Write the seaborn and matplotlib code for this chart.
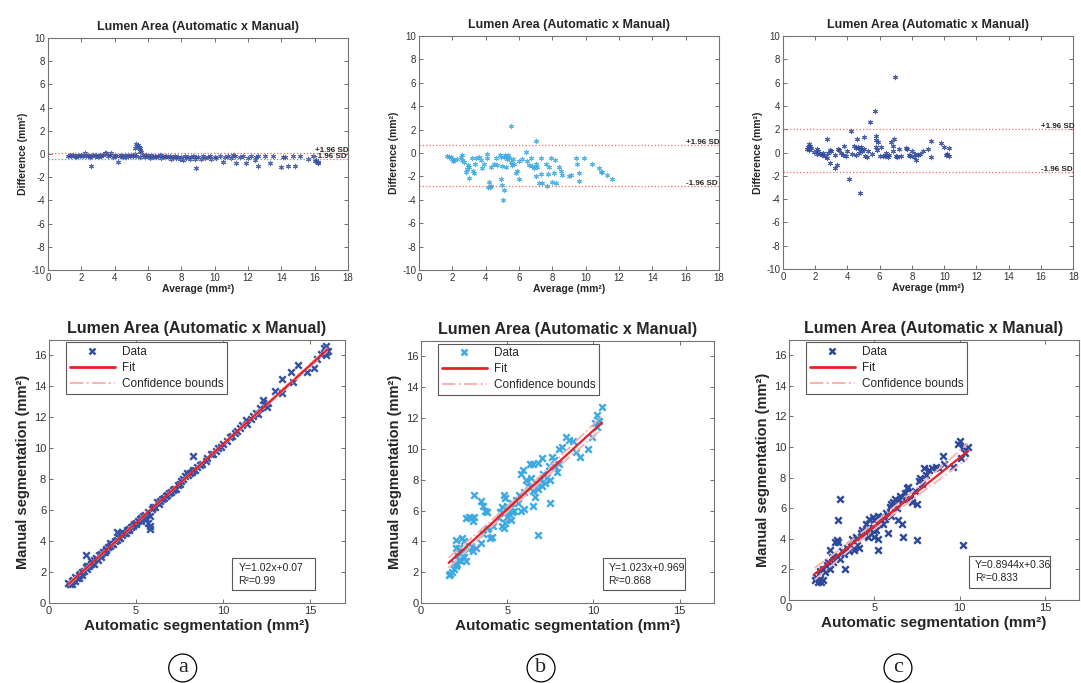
import numpy as np
import matplotlib
matplotlib.use('Agg')
import matplotlib.pyplot as plt
import seaborn as sns
from matplotlib.patches import Rectangle
from matplotlib.lines import Line2D

# ---- data ----
# Bland-Altman panels: (average, difference)
ba_a = [(1.2,-0.15),(1.3,-0.1),(1.4,-0.2),(1.5,-0.1),(1.6,-0.15),(1.7,-0.25),(1.8,-0.1),(1.9,-0.2),(2.0,-0.05),(2.1,-0.15),
        (2.2,0.1),(2.3,-0.2),(2.4,-0.1),(2.5,-0.3),(2.6,-1.0),(2.6,-0.15),(2.7,-0.05),(2.8,-0.2),(2.9,-0.1),(3.0,-0.25),(3.1,-0.1),
        (3.2,-0.2),(3.3,-0.05),(3.4,0.05),(3.5,0.1),(3.6,-0.2),(3.7,-0.1),(3.8,0.05),(3.9,-0.3),(4.0,-0.1),(4.1,-0.2),(4.2,-0.7),
        (4.3,-0.15),(4.4,-0.05),(4.5,-0.25),(4.6,-0.1),(4.7,-0.3),(4.8,-0.1),(4.9,-0.2),(5.0,-0.05),(5.1,-0.15),
        (5.2,0.0),(5.25,0.5),(5.3,0.9),(5.4,0.8),(5.45,0.6),(5.5,0.5),(5.55,0.3),(5.6,0.2),(5.3,-0.2),(5.5,-0.3),
        (5.7,-0.1),(5.8,-0.25),(5.9,-0.05),(6.0,-0.2),(6.1,-0.35),(6.2,-0.1),(6.3,-0.25),(6.4,-0.15),(6.5,-0.3),(6.6,-0.2),
        (6.7,-0.1),(6.8,-0.35),(6.9,-0.2),(7.0,-0.25),(7.1,-0.15),(7.2,-0.3),(7.3,-0.2),(7.4,-0.4),(7.5,-0.25),(7.6,-0.15),
        (7.7,-0.35),(7.8,-0.25),(7.9,-0.45),(8.0,-0.3),(8.1,-0.55),(8.2,-0.2),(8.3,-0.35),(8.4,-0.25),(8.5,-0.4),
        (8.6,-0.3),(8.7,-0.2),(8.8,-0.45),(8.9,-1.2),(8.9,-0.3),(9.0,-0.25),(9.2,-0.4),(9.3,-0.2),(9.4,-0.35),(9.6,-0.3),
        (9.7,-0.15),(9.8,-0.4),(10.0,-0.25),(10.1,-0.35),(10.3,-0.2),(10.5,-0.65),(10.6,-0.3),(10.8,-0.2),(11.0,-0.35),
        (11.1,-0.05),(11.2,-0.2),(11.3,-0.8),(11.5,-0.3),(11.7,-0.2),(11.9,-0.8),(12.0,-0.35),(12.2,-0.2),(12.4,-0.5),
        (12.5,-0.3),(12.6,-1.05),(12.6,-0.2),(13.0,-0.2),(13.3,-0.8),(13.5,-0.2),(14.0,-1.1),(14.1,-0.25),(14.2,-0.3),
        (14.4,-1.05),(14.7,-0.2),(14.8,-1.05),(15.1,-0.2),(15.6,-0.4),(15.9,-0.2),(16.0,-0.6),(16.1,-0.5),(16.2,-0.7),(16.2,-0.8)]

ba_b = [(1.7,-0.25),(1.8,-0.3),(1.9,-0.3),(2.0,-0.5),(2.05,-0.7),(2.1,-0.6),(2.3,-0.5),(2.5,-0.3),(2.6,-0.6),(2.6,-0.2),
        (2.7,-0.8),(2.8,-1.6),(2.9,-1.4),(2.95,-1.0),(3.0,-2.1),(3.0,-1.2),(3.2,-0.4),(3.25,-1.5),(3.3,-1.7),(3.35,-0.9),
        (3.4,-0.4),(3.6,-0.3),(3.7,-0.6),(3.8,-1.3),(3.9,-0.9),(4.1,-0.1),(4.1,-0.4),(4.15,-2.9),(4.2,-2.5),(4.25,-2.9),
        (4.3,-2.8),(4.35,-1.2),(4.5,-0.9),(4.6,-0.4),(4.7,-1.0),(4.85,-0.2),(4.9,-2.2),(4.95,-0.3),(5.0,-2.7),(5.05,-4.0),
        (5.1,-3.2),(5.0,-1.1),(5.1,-0.3),(5.15,-0.2),(5.2,-1.2),(5.25,-0.3),(5.3,-0.5),(5.35,-0.2),(5.4,-0.4),(5.5,-0.8),
        (5.55,2.3),(5.6,-1.0),(5.65,-0.5),(5.7,-0.9),(5.8,-1.7),(5.9,-1.5),(6.0,-2.2),(6.0,-0.7),(6.2,-0.5),(6.4,0.1),
        (6.5,-0.7),(6.6,-1.0),(6.7,-0.4),(6.8,-1.1),(6.9,-1.3),(7.0,1.0),(7.0,-2.0),(7.05,-0.9),(7.1,-1.2),(7.2,-2.6),
        (7.3,-1.8),(7.35,-0.4),(7.4,-2.6),(7.6,-0.9),(7.7,-2.8),(7.75,-1.8),(7.8,-1.2),(7.9,-0.4),(8.0,-2.5),(8.1,-1.7),
        (8.15,-0.6),(8.2,-2.6),(8.4,-1.2),(8.5,-1.5),(8.6,-1.9),(9.0,-2.0),(9.1,-1.9),(9.4,-0.4),(9.5,-0.9),(9.6,-1.7),
        (9.6,-2.4),(9.9,-0.4),(10.4,-0.9),(10.8,-1.3),(10.9,-1.6),(11.0,-1.6),(11.3,-1.9),(11.6,-2.2)]

ba_c = [(1.5,0.3),(1.55,0.5),(1.6,0.7),(1.7,0.6),(1.6,0.2),(1.75,0.4),(1.9,0.05),(2.1,0.3),(2.1,-0.1),(2.2,0.1),
        (2.3,-0.1),(2.4,-0.2),(2.5,0.0),(2.6,-0.3),(2.7,-0.5),(2.75,1.2),(2.8,0.0),(2.9,-0.9),(2.9,0.2),(3.0,0.1),
        (3.2,-0.2),(3.25,-1.3),(3.35,-1.1),(3.4,0.3),(3.5,0.2),(3.6,0.0),(3.7,-0.2),(3.8,0.6),(3.9,-0.3),(4.0,0.1),
        (4.1,-2.3),(4.25,1.85),(4.3,-0.1),(4.4,0.6),(4.5,0.4),(4.55,-0.2),(4.6,1.2),(4.65,0.5),(4.7,0.0),(4.75,0.3),
        (4.8,-3.5),(4.85,0.5),(4.9,0.1),(5.0,0.3),(5.05,1.3),(5.1,-0.3),(5.2,-0.4),(5.3,0.1),(5.4,2.6),(5.5,-0.1),
        (5.7,3.6),(5.75,1.4),(5.8,0.5),(5.8,1.1),(5.85,0.2),(5.9,0.9),(6.0,-0.3),(6.1,0.5),(6.2,-0.3),(6.3,-0.3),
        (6.4,0.0),(6.5,-0.4),(6.6,-0.2),(6.7,0.9),(6.8,0.1),(6.85,0.6),(6.9,1.2),(6.95,6.5),(7.0,-0.3),(7.1,-0.4),
        (7.2,0.3),(7.3,-0.3),(7.6,0.4),(7.7,0.3),(7.8,-0.2),(7.9,-0.3),(8.0,0.1),(8.1,-0.4),(8.2,-0.1),(8.25,-0.6),
        (8.4,-0.2),(8.5,-0.1),(8.7,0.1),(9.0,0.3),(9.15,1.0),(9.2,-0.4),(9.8,0.8),(10.0,0.5),(10.1,-0.2),(10.2,-0.1),
        (10.3,0.4),(10.3,-0.3)]

sd_upper = [0.1, 0.7, 2.05]
sd_lower = [-0.45, -2.85, -1.65]

# regression panels: (automatic, manual)
reg_a = [(1.1,1.3),(1.2,1.2),(1.3,1.4),(1.3,1.2),(1.4,1.5),(1.5,1.4),(1.5,1.7),(1.6,1.6),(1.7,1.8),(1.7,1.6),
         (1.8,1.9),(1.9,2.0),(1.9,1.8),(2.0,2.1),(2.1,2.3),(2.1,3.1),(2.2,2.2),(2.2,2.4),(2.3,2.4),(2.4,2.5),
         (2.4,2.7),(2.5,2.6),(2.6,2.8),(2.6,2.5),(2.7,2.9),(2.8,2.8),(2.9,3.1),(3.0,3.0),(3.0,3.2),(3.1,3.3),
         (3.2,3.3),(3.3,3.5),(3.3,3.4),(3.4,3.6),(3.5,3.7),(3.5,3.9),(3.6,3.8),(3.7,3.8),(3.8,4.0),(3.9,4.6),
         (3.9,4.1),(4.0,4.2),(4.1,4.2),(4.2,4.4),(4.2,4.6),(4.3,4.5),(4.4,4.5),(4.5,4.7),(4.6,4.8),(4.6,4.7),
         (4.7,4.9),(4.8,5.0),(4.9,5.1),(5.0,5.1),(5.0,5.2),(5.1,5.3),(5.2,5.4),(5.3,5.5),(5.3,5.3),(5.4,5.6),
         (5.5,5.7),(5.5,5.5),(5.6,5.4),(5.7,5.2),(5.7,5.9),(5.8,4.8),(5.8,5.0),(5.8,5.6),(5.9,6.1),(6.0,6.2),
         (6.1,6.2),(6.2,6.5),(6.3,6.4),(6.4,6.6),(6.5,6.7),(6.6,6.8),(6.7,6.9),(6.8,7.0),(6.9,7.1),(7.0,7.2),
         (7.1,7.3),(7.2,7.4),(7.3,7.4),(7.4,7.6),(7.5,7.7),(7.6,7.9),(7.7,8.0),(7.8,8.2),(7.9,8.4),(8.0,8.3),
         (8.1,8.4),(8.2,8.5),(8.3,9.5),(8.3,8.6),(8.4,8.6),(8.5,8.8),(8.7,8.9),(8.8,9.0),(9.0,9.2),(9.1,9.4),
         (9.3,9.6),(9.4,9.6),(9.6,9.8),(9.7,10.0),(9.9,10.1),(10.0,10.3),(10.2,10.5),(10.4,10.7),(10.5,10.8),(10.7,11.0),
         (10.8,11.1),(11.0,11.3),(11.1,11.5),(11.3,11.8),(11.4,11.6),(11.6,11.9),(11.7,12.1),(11.9,12.3),(12.0,12.2),(12.1,12.6),
         (12.3,13.1),(12.4,12.8),(12.5,12.7),(12.6,12.9),(13.0,13.7),(13.4,13.6),(13.4,14.5),(13.9,14.9),(14.0,14.3),(14.3,15.4),
         (14.8,14.9),(15.2,15.2),(15.4,15.8),(15.6,16.1),(15.8,16.5),(15.9,16.6),(15.9,16.0),(16.0,16.3),(15.9,16.2)]

reg_b = [(1.6,1.8),(1.7,1.9),(1.8,2.0),(1.9,2.2),(1.9,2.6),(2.0,4.1),(2.0,3.6),(2.0,2.4),(2.1,2.5),(2.1,3.1),
         (2.2,3.6),(2.2,2.8),(2.3,2.7),(2.4,3.3),(2.4,4.2),(2.5,4.0),(2.5,3.0),(2.6,2.7),(2.6,5.5),(2.7,3.5),
         (2.8,5.6),(2.9,5.5),(2.9,3.7),(3.0,5.3),(3.0,3.4),(3.05,5.6),(3.1,7.0),(3.2,3.6),(3.5,3.9),(3.5,6.6),
         (3.6,6.3),(3.6,4.5),(3.7,6.0),(3.8,5.9),(3.8,4.8),(3.9,4.9),(4.0,4.2),(4.1,4.3),(4.2,5.0),(4.5,5.5),
         (4.6,5.9),(4.7,5.0),(4.7,6.2),(4.8,4.9),(4.8,7.0),(4.9,6.8),(4.9,5.2),(5.0,5.6),(5.0,6.3),(5.1,5.8),
         (5.1,6.0),(5.2,6.2),(5.2,5.4),(5.3,6.5),(5.3,5.9),(5.4,6.0),(5.5,6.7),(5.6,6.5),(5.7,7.0),(5.8,8.4),
         (5.8,6.0),(5.9,8.6),(6.0,7.2),(6.0,6.1),(6.1,8.0),(6.2,7.6),(6.3,9.0),(6.3,7.5),(6.4,8.1),(6.5,9.0),
         (6.5,7.3),(6.5,6.3),(6.6,6.9),(6.7,7.7),(6.8,7.4),(6.8,9.1),(6.9,8.0),(7.0,7.6),(7.0,9.4),(7.1,8.4),
         (6.8,4.4),(7.2,7.8),(7.3,8.2),(7.4,8.9),(7.5,6.5),(7.5,8.0),(7.6,9.5),(7.7,9.3),(7.8,8.8),(7.9,8.5),
         (8.0,9.0),(8.0,10.0),(8.2,10.1),(8.4,10.8),(8.6,10.6),(8.8,10.5),(9.0,9.8),(9.2,9.5),(9.7,10.0),(9.9,10.8),
         (10.1,11.7),(10.2,12.2),(10.3,11.8),(10.5,12.7),(10.2,11.4)]

reg_c = [(1.5,1.3),(1.6,1.5),(1.7,1.2),(1.8,1.4),(1.9,1.2),(2.0,1.3),(1.8,1.9),(2.0,2.0),(2.1,1.8),(2.2,2.3),
         (2.3,2.5),(2.4,2.0),(2.4,3.3),(2.5,2.8),(2.6,2.5),(2.7,3.8),(2.8,3.9),(2.9,3.8),(2.9,2.9),(3.0,6.6),
         (2.9,5.2),(3.0,2.7),(3.1,3.2),(3.2,3.0),(3.3,2.0),(3.4,3.4),(3.5,3.2),(3.6,3.6),(3.7,4.0),(3.8,3.3),
         (3.9,4.1),(4.0,3.6),(4.1,3.4),(4.2,4.4),(4.3,4.6),(4.4,4.2),(4.5,5.0),(4.6,4.5),(4.6,4.1),(4.7,5.3),
         (4.7,4.8),(4.8,4.3),(4.9,5.4),(4.9,4.6),(5.0,4.1),(5.0,5.2),(5.1,4.6),(5.2,5.5),(5.2,3.3),(5.2,4.0),
         (5.3,5.0),(5.4,5.4),(5.5,5.0),(5.6,5.3),(5.7,5.7),(5.8,4.4),(5.9,6.1),(6.0,6.3),(6.0,5.5),(6.1,6.4),
         (6.2,6.6),(6.3,6.0),(6.4,6.5),(6.4,5.2),(6.5,6.8),(6.6,5.0),(6.7,6.6),(6.8,7.0),(6.9,7.3),(6.7,4.1),
         (7.0,7.4),(7.1,6.6),(7.2,6.4),(7.4,7.1),(7.5,6.3),(7.5,3.9),(7.6,7.8),(7.7,8.0),(7.8,7.6),(7.9,8.6),
         (8.0,8.2),(8.2,8.5),(8.4,8.6),(8.6,8.7),(8.8,8.6),(9.0,9.4),(9.1,8.9),(9.6,8.7),(9.9,10.2),(10.0,10.4),
         (10.2,10.0),(10.3,9.6),(10.5,10.0),(10.2,3.6),(10.1,9.3)]

fit_slope = [1.02, 1.023, 0.8944]
fit_icpt = [0.07, 0.969, 0.36]
fit_text = ['Y=1.02x+0.07\nR²=0.99', 'Y=1.023x+0.969\nR²=0.868', 'Y=0.8944x+0.36\nR²=0.833']
colors = ['#3551A3', '#3DA9E2', '#2D489A']
panel_letters = ['a', 'b', 'c']

sns.set_style('ticks')
plt.rcParams['font.family'] = ['Liberation Sans', 'DejaVu Sans']
plt.rcParams['axes.unicode_minus'] = False

fig = plt.figure(figsize=(10.81, 6.83), dpi=100)

top_rects = [(0.0444, 0.6047, 0.2775, 0.3397),
             (0.3876, 0.6047, 0.2775, 0.3426),
             (0.7243, 0.6061, 0.2685, 0.3412)]
bot_rects = [(0.0453, 0.1171, 0.2738, 0.3851),
             (0.3895, 0.1171, 0.2710, 0.3836),
             (0.7299, 0.1215, 0.2683, 0.3807)]


def style_axes(ax, labelsize):
    for sp in ax.spines.values():
        sp.set_color('0.45')
        sp.set_linewidth(0.8)
    ax.tick_params(direction='in', top=True, right=True, length=3, width=0.6,
                   color='0.35', labelsize=labelsize, labelcolor='0.2', pad=2)


def conf_half(x, y, slope, icpt, xs):
    res = y - (slope * x + icpt)
    n = len(x)
    s = np.sqrt((res ** 2).sum() / (n - 2))
    sxx = ((x - x.mean()) ** 2).sum()
    return 1.96 * s * np.sqrt(1.0 / n + (xs - x.mean()) ** 2 / sxx)


ba_all = [ba_a, ba_b, ba_c]
reg_all = [reg_a, reg_b, reg_c]

for i in range(3):
    # Bland-Altman
    ax = fig.add_axes(top_rects[i])
    pts = np.array(ba_all[i])
    sns.scatterplot(x=pts[:, 0], y=pts[:, 1], ax=ax, marker=(6, 2, 0), s=10,
                    color=colors[i], linewidth=0.8, alpha=0.85)
    ax.axhline(sd_upper[i], color='#F06A6A', ls=':', lw=0.9)
    ax.axhline(sd_lower[i], color='#F06A6A', ls=':', lw=0.9)
    ax.text(16, sd_upper[i] + 0.2, '+1.96 SD', fontsize=5.8, fontweight='bold',
            va='center', ha='left', clip_on=False)
    ax.text(16, sd_lower[i] + 0.2, '-1.96 SD', fontsize=5.8, fontweight='bold',
            va='center', ha='left', clip_on=False)
    ax.set_xlim(0, 18)
    ax.set_ylim(-10, 10)
    ax.set_xticks(range(0, 19, 2))
    ax.set_yticks(range(-10, 11, 2))
    ax.set_title('Lumen Area (Automatic x Manual)', fontsize=9, fontweight='bold', pad=6)
    ax.set_xlabel('Average (mm²)', fontsize=7.5, fontweight='bold', labelpad=1)
    ax.set_ylabel('Difference (mm²)', fontsize=7.5, fontweight='bold', labelpad=2)
    style_axes(ax, 7)

    # regression
    ax = fig.add_axes(bot_rects[i])
    pts = np.array(reg_all[i])
    x, y = pts[:, 0], pts[:, 1]
    sns.scatterplot(x=x, y=y, ax=ax, marker='x', s=22, color=colors[i], linewidth=1.7)
    xs = np.linspace(x.min(), x.max(), 50)
    yfit = fit_slope[i] * xs + fit_icpt[i]
    half = conf_half(x, y, fit_slope[i], fit_icpt[i], xs)
    sns.lineplot(x=xs, y=yfit + half, ax=ax, color='#F7B4B4', lw=1.3, ls='-.')
    sns.lineplot(x=xs, y=yfit - half, ax=ax, color='#F7B4B4', lw=1.3, ls='-.')
    sns.lineplot(x=xs, y=yfit, ax=ax, color='#E8202A', lw=1.6)
    ax.set_xlim(0, 17)
    ax.set_ylim(0, 17)
    ax.set_xticks([0, 5, 10, 15])
    ax.set_yticks(range(0, 17, 2))
    ax.set_title('Lumen Area (Automatic x Manual)', fontsize=11.5, fontweight='bold', pad=5)
    ax.set_xlabel('Automatic segmentation (mm²)', fontsize=11, fontweight='bold', labelpad=2)
    ax.set_ylabel('Manual segmentation (mm²)', fontsize=10.5, fontweight='bold', labelpad=3)
    style_axes(ax, 8)

    handles = [Line2D([], [], ls='none', marker='x', color=colors[i], markersize=5, mew=1.8),
               Line2D([], [], color='#E8202A', lw=2),
               Line2D([], [], color='#F7B4B4', lw=1.5, ls='-.')]
    leg = ax.legend(handles, ['Data', 'Fit', 'Confidence bounds'], loc='upper left',
                    bbox_to_anchor=(0.055, 0.995), fontsize=8.5, frameon=True, fancybox=False,
                    handlelength=3.8, handletextpad=0.6, borderpad=0.3, labelspacing=0.35,
                    borderaxespad=0.1)
    leg.get_frame().set_edgecolor('0.35')
    leg.get_frame().set_linewidth(0.8)
    leg.get_frame().set_alpha(1)

    ax.add_patch(Rectangle((0.62, 0.048), 0.28, 0.122, transform=ax.transAxes,
                           facecolor='white', edgecolor='0.35', lw=0.8, zorder=5))
    ax.text(0.64, 0.109, fit_text[i], transform=ax.transAxes, fontsize=7.5,
            va='center', ha='left', color='0.15', zorder=6, linespacing=1.3)

# circled panel letters
for cx, letter in zip([0.169, 0.5005, 0.8307], panel_letters):
    fig.text(cx, 0.022, letter, ha='center', va='center', fontsize=16,
             family=['Liberation Serif', 'DejaVu Serif'],
             bbox=dict(boxstyle='circle,pad=0.2', facecolor='white', edgecolor='black', lw=0.9))

fig.savefig('out.png', dpi=100)
